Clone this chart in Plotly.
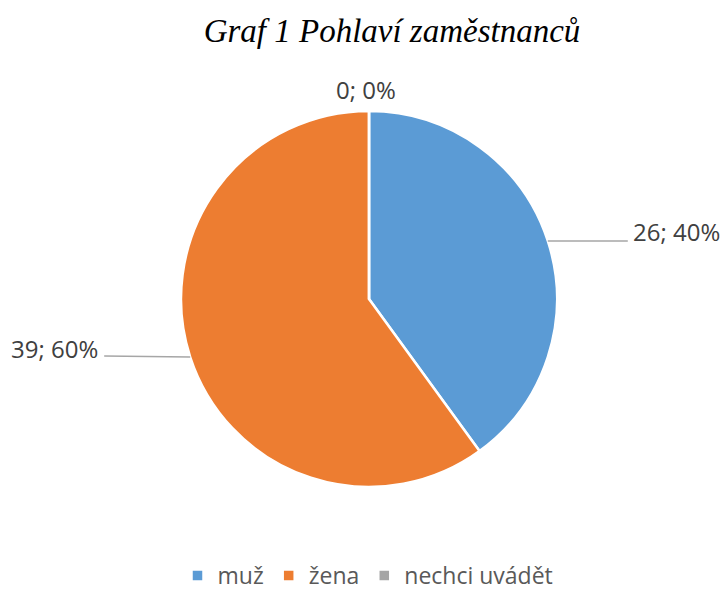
import math
import plotly.graph_objects as go

categories = ["muž", "žena", "nechci uvádět"]
values = [26, 39, 0]
colors = ["#5B9BD5", "#ED7D31", "#A5A5A5"]
title_text = "Graf 1 Pohlaví zaměstnanců"

W, H = 727, 592
cx, cy, R = 369, 299, 188  # pie centre / radius in pixels

fig = go.Figure(go.Pie(
    labels=categories, values=values, sort=False, direction="clockwise",
    rotation=0, textinfo="none", hoverinfo="label+value+percent",
    marker=dict(colors=colors, line=dict(color="white", width=2.5)),
    domain=dict(x=[(cx - R) / W, (cx + R) / W], y=[(H - cy - R) / H, (H - cy + R) / H]),
    showlegend=True,
))

def px2paper(x, y):
    return x / W, 1 - y / H

total = sum(values)
start = 0.0
annotations = []
shapes = []
for cat, v in zip(categories, values):
    frac = v / total
    mid = start + frac * 360 / 2
    start += frac * 360
    a = math.radians(mid)
    ex, ey = cx + R * math.sin(a), cy - R * math.cos(a)
    label = f"{v}; {round(frac * 100)}%"
    if v == 0:
        x, y = px2paper(cx - 3, cy - R - 22)
        annotations.append(dict(x=x, y=y, xref="paper", yref="paper", text=label,
                                showarrow=False, xanchor="center", yanchor="middle"))
        continue
    if math.sin(a) >= 0:
        lx, ly = ex + 80, ey
        x0, y0 = px2paper(ex, ey)
        x1, y1 = px2paper(lx, ly)
        shapes.append(dict(type="line", xref="paper", yref="paper", x0=x0, y0=y0, x1=x1, y1=y1,
                           line=dict(color="#A6A6A6", width=1.5)))
        x, y = px2paper(lx + 3, ly - 9)
        annotations.append(dict(x=x, y=y, xref="paper", yref="paper", text=label,
                                showarrow=False, xanchor="left", yanchor="middle"))
    else:
        lx, ly = ex - 86, ey - 1
        x0, y0 = px2paper(ex, ey)
        x1, y1 = px2paper(lx, ly)
        shapes.append(dict(type="line", xref="paper", yref="paper", x0=x0, y0=y0, x1=x1, y1=y1,
                           line=dict(color="#A6A6A6", width=1.5)))
        x, y = px2paper(lx - 4, ly - 8)
        annotations.append(dict(x=x, y=y, xref="paper", yref="paper", text=label,
                                showarrow=False, xanchor="right", yanchor="middle"))

fig.update_layout(
    width=W, height=H,
    margin=dict(l=0, r=0, t=0, b=0, autoexpand=False),
    paper_bgcolor="white", plot_bgcolor="white",
    title=dict(text=title_text, x=392 / W, xanchor="center", y=1 - 30 / H, yanchor="middle",
               font=dict(family="Liberation Serif", size=33, color="#000000", style="italic")),
    font=dict(family="Open Sans", size=24, color="#404040"),
    annotations=annotations,
    shapes=shapes,
    legend=dict(orientation="h", x=368 / W, xanchor="center", y=-5 / H, yanchor="bottom",
                font=dict(family="Open Sans", size=23, color="#595959"),
                itemwidth=30, traceorder="normal", tracegroupgap=0),
)

fig.write_html("out.html", post_script="document.body.style.margin='0';",
               config={"displayModeBar": False})
